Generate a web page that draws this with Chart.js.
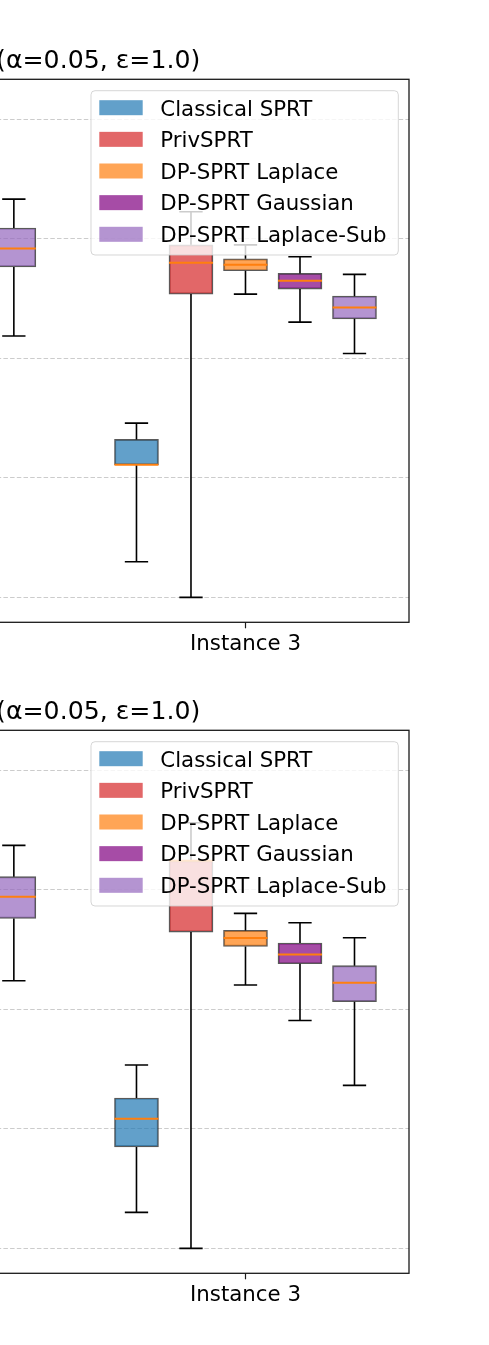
<!DOCTYPE html>
<html>
<head>
<meta charset="utf-8">
<script src="https://cdn.jsdelivr.net/npm/chart.js@4.4.1/dist/chart.umd.min.js"></script>
<style>
    html, body { margin: 0; padding: 0; background: #fff; overflow: hidden; }
    body { width: 489px; height: 1345px; position: relative; }
    .panel { position: absolute; left: -20px; width: 509px; }
    #top { top: 0; height: 665px; }
    #bottom { top: 665px; height: 680px; }
</style>
</head>
<body>
<div class="panel" id="top"><canvas id="chart-top"></canvas></div>
<div class="panel" id="bottom"><canvas id="chart-bottom"></canvas></div>
<script>
// Only the right part of the figure is in view: the last box of Instance 2 and all of Instance 3.
const instances = ['Instance 2', 'Instance 3'];
const instancePos = [2, 3];
const methods = ['Classical SPRT', 'PrivSPRT', 'DP-SPRT Laplace', 'DP-SPRT Gaussian', 'DP-SPRT Laplace-Sub'];
const methodOffset = [-0.32, -0.16, 0, 0.16, 0.32];
const yGrid = [0, 100, 200, 300, 400];
const titleText = '(α=0.05, ε=1.0)';

// box = [lower whisker, q1, median, q3, upper whisker]; null = box outside the view
const topClassical = [null, [29.8, 110.9, 110.9, 132.1, 145.7]];
const topPriv      = [null, [0, 253.6, 279.8, 294.8, 322.4]];
const topLaplace   = [null, [253.6, 273.1, 278.1, 283.1, 294.8]];
const topGaussian  = [null, [230.2, 257.8, 264.7, 270.9, 284.8]];
const topLapSub    = [[218.6, 276.3, 291.7, 308.9, 333.0], [204.0, 232.9, 242.5, 251.9, 270.1]];

const botClassical = [null, [30.1, 84.8, 108.4, 125.8, 153.3]];
const botPriv      = [null, [0, 264.5, 324.2, 324.2, 355.9]];
const botLaplace   = [null, [220.2, 252.5, 259.5, 265.9, 280.1]];
const botGaussian  = [null, [190.6, 238.0, 245.8, 255.4, 272.3]];
const botLapSub    = [[223.8, 275.9, 294.1, 310.8, 337.0], [136.3, 206.3, 222.2, 236.4, 259.8]];

const methodColors = [
    'rgba(31,119,180,0.7)',
    'rgba(214,39,40,0.7)',
    'rgba(255,127,14,0.7)',
    'rgba(128,0,128,0.7)',
    'rgba(148,103,189,0.7)'
];
const FONT = '"DejaVu Sans", "Liberation Sans", sans-serif';

// whiskers, caps and medians, placed on the bars the library laid out
const boxExtras = {
    id: 'boxExtras',
    afterDatasetsDraw(chart) {
        const ctx = chart.ctx;
        const y = chart.scales.y;
        ctx.save();
        chart.data.datasets.forEach((ds, d) => {
            const meta = chart.getDatasetMeta(d);
            meta.data.forEach((bar, i) => {
                const s = ds.stats[i];
                const x = bar.x;
                const w = bar.width;
                const cap = w * 0.265;
                ctx.strokeStyle = '#000';
                ctx.lineWidth = 1.6;
                ctx.beginPath();
                ctx.moveTo(x, y.getPixelForValue(s[1]));
                ctx.lineTo(x, y.getPixelForValue(s[0]));
                ctx.moveTo(x - cap, y.getPixelForValue(s[0]));
                ctx.lineTo(x + cap, y.getPixelForValue(s[0]));
                ctx.moveTo(x, y.getPixelForValue(s[3]));
                ctx.lineTo(x, y.getPixelForValue(s[4]));
                ctx.moveTo(x - cap, y.getPixelForValue(s[4]));
                ctx.lineTo(x + cap, y.getPixelForValue(s[4]));
                ctx.stroke();

                ctx.strokeStyle = '#ff7f0e';
                ctx.lineWidth = 2;
                ctx.beginPath();
                ctx.moveTo(x - w / 2, y.getPixelForValue(s[2]));
                ctx.lineTo(x + w / 2, y.getPixelForValue(s[2]));
                ctx.stroke();
            });
        });
        ctx.restore();
    },
    afterDraw(chart) {
        const ctx = chart.ctx;
        const a = chart.chartArea;
        ctx.save();

        // axes frame
        ctx.strokeStyle = '#1a1a1a';
        ctx.lineWidth = 1.3;
        ctx.strokeRect(a.left, a.top, a.right - a.left, a.bottom - a.top);

        // title (only its right part is in view)
        ctx.fillStyle = '#000';
        ctx.font = '25.2px ' + FONT;
        ctx.textAlign = 'right';
        ctx.textBaseline = 'alphabetic';
        ctx.fillText(titleText, a.left + 210.3, a.top - 11.2);

        // legend
        const lw = 307.3, lh = 164.3, r = 4;
        const lx = a.right - 10.7 - lw;
        const ly = a.top + 11.4;
        ctx.beginPath();
        ctx.moveTo(lx + r, ly);
        ctx.lineTo(lx + lw - r, ly);
        ctx.arcTo(lx + lw, ly, lx + lw, ly + r, r);
        ctx.lineTo(lx + lw, ly + lh - r);
        ctx.arcTo(lx + lw, ly + lh, lx + lw - r, ly + lh, r);
        ctx.lineTo(lx + r, ly + lh);
        ctx.arcTo(lx, ly + lh, lx, ly + lh - r, r);
        ctx.lineTo(lx, ly + r);
        ctx.arcTo(lx, ly, lx + r, ly, r);
        ctx.closePath();
        ctx.fillStyle = 'rgba(255,255,255,0.8)';
        ctx.fill();
        ctx.strokeStyle = 'rgba(204,204,204,0.8)';
        ctx.lineWidth = 1;
        ctx.stroke();

        ctx.font = '21.3px ' + FONT;
        ctx.textAlign = 'left';
        methods.forEach((m, j) => {
            const cy = ly + 17 + j * 31.65;
            ctx.fillStyle = methodColors[j];
            ctx.fillRect(lx + 8.3, cy - 7.5, 43.4, 15);
            ctx.fillStyle = '#000';
            ctx.fillText(m, lx + 69.3, cy + 7.8);
        });
        ctx.restore();
    }
};

function buildChart(canvasId, boxSets, padding) {
    const datasets = methods.map((m, j) => {
        const pts = [];
        const stats = [];
        boxSets[j].forEach((b, i) => {
            if (!b) return;
            pts.push({ x: instancePos[i] + methodOffset[j], y: [b[1], b[3]] });
            stats.push(b);
        });
        return {
            label: m,
            data: pts,
            stats: stats,
            backgroundColor: methodColors[j],
            borderColor: 'rgba(0,0,0,0.65)',
            borderWidth: 1.3,
            borderSkipped: false,
            barThickness: 44,
            grouped: false
        };
    });

    return new Chart(document.getElementById(canvasId), {
        type: 'bar',
        data: { datasets },
        options: {
            responsive: true,
            maintainAspectRatio: false,
            animation: false,
            layout: { padding },
            plugins: { legend: { display: false }, tooltip: { enabled: false } },
            scales: {
                x: {
                    type: 'linear',
                    min: 2.25,
                    max: 3.48,
                    offset: false,
                    afterBuildTicks: s => {
                        s.ticks = instancePos.filter(v => v >= s.min && v <= s.max).map(v => ({ value: v }));
                    },
                    afterFit: s => { s.height = 40; },
                    ticks: {
                        autoSkip: false,
                        maxRotation: 0,
                        padding: 3,
                        color: '#000',
                        font: { family: FONT, size: 21.3 },
                        callback: v => instances[instancePos.indexOf(v)]
                    },
                    grid: {
                        display: true,
                        offset: false,
                        drawOnChartArea: false,
                        drawTicks: true,
                        tickLength: 6,
                        tickColor: '#1a1a1a',
                        tickWidth: 1.2
                    },
                    border: { display: false }
                },
                y: {
                    type: 'linear',
                    min: -20.8,
                    max: 433.2,
                    afterBuildTicks: s => { s.ticks = yGrid.map(v => ({ value: v })); },
                    afterFit: s => { s.width = 0; },
                    ticks: { display: false },
                    grid: { color: '#cccccc', lineWidth: 1, drawTicks: false },
                    border: { display: false, dash: [4.5, 2.2] }
                }
            }
        },
        plugins: [boxExtras]
    });
}

buildChart('chart-top',
    [topClassical, topPriv, topLaplace, topGaussian, topLapSub],
    { left: 10, right: 80, top: 79.3, bottom: 2.7 });
buildChart('chart-bottom',
    [botClassical, botPriv, botLaplace, botGaussian, botLapSub],
    { left: 10, right: 80, top: 65.3, bottom: 31.7 });
</script>
</body>
</html>
